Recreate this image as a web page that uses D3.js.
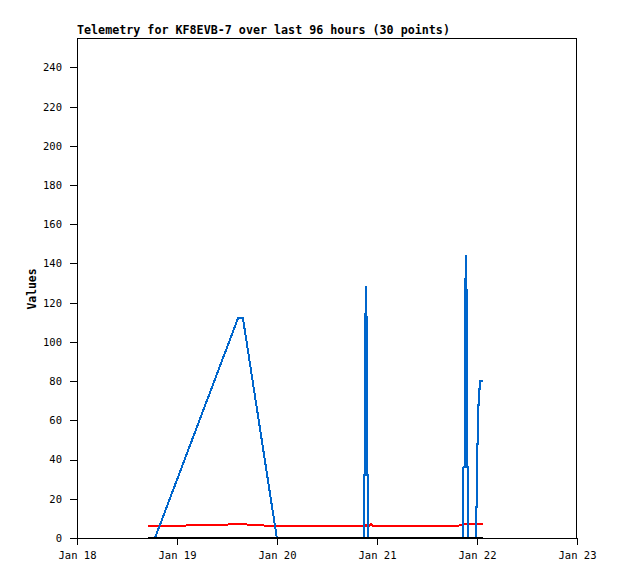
<!DOCTYPE html>
<html><head><meta charset="utf-8">
<script src="https://cdn.jsdelivr.net/npm/d3@7"></script>
<style>
body{margin:0;background:#fff;}
svg text{font-family:"DejaVu Sans Mono","Liberation Mono",monospace;}
</style></head>
<body><svg id="c" width="618" height="579"></svg>
<script>
const title = "Telemetry for KF8EVB-7 over last 96 hours (30 points)";
const yLabel = "Values";
const times = [
 "2021-01-18T17:02","2021-01-18T18:43","2021-01-19T14:38","2021-01-19T15:50","2021-01-19T23:58",
 "2021-01-20T20:48","2021-01-20T20:51","2021-01-20T21:06","2021-01-20T21:07","2021-01-20T21:20",
 "2021-01-20T21:23","2021-01-20T21:36","2021-01-20T21:37","2021-01-20T21:50","2021-01-20T21:53",
 "2021-01-20T22:34","2021-01-20T23:02",
 "2021-01-21T19:12",
 "2021-01-21T20:43","2021-01-21T20:46","2021-01-21T21:04","2021-01-21T21:05","2021-01-21T21:19",
 "2021-01-21T21:23","2021-01-21T21:36","2021-01-21T21:37","2021-01-21T21:50","2021-01-21T21:53",
 "2021-01-21T23:43","2021-01-21T23:46","2021-01-21T23:59","2021-01-22T00:00","2021-01-22T00:13",
 "2021-01-22T00:14","2021-01-22T00:27","2021-01-22T00:29","2021-01-22T00:37","2021-01-22T00:39",
 "2021-01-22T01:26"
];
const blueValues = [0,0,112,112,0,
 0,32,32,96,128,128,96,32,32,0, 0,0,
 0,
 0,36,36,108,144,144,108,36,36,0,
 0,16,16,48,48,68,68,76,76,80,80];
const redValues  = [6,6,7,7,6,
 6,6,6,6.5,6.5,6.5,6.5,6,6,6, 7,6,
 6,
 7,7,7,7,7,7,7,7,7,7,
 7,7,7,7,7,7,7,7,7,7,7];
const blackValues = blueValues.map(() => 0);
const xDomain = ["2021-01-18T00:00","2021-01-23T00:00"];
const yDomain = [0,255];
const yTicks = [0,20,40,60,80,100,120,140,160,180,200,220,240];
const xTicks = ["2021-01-18","2021-01-19","2021-01-20","2021-01-21","2021-01-22","2021-01-23"];

const parse = d3.utcParse("%Y-%m-%dT%H:%M");
const parseDay = d3.utcParse("%Y-%m-%d");
const L=77,R=577,T=38,B=538;
const svg = d3.select("#c");
const x = d3.scaleUtc().domain(xDomain.map(parse)).range([L,R]);
const y = d3.scaleLinear().domain(yDomain).range([B,T]);
const fmt = d3.utcFormat("%b %d");

svg.append("rect").attr("x",L+0.5).attr("y",T+0.5).attr("width",R-L-1).attr("height",B-T)
  .attr("fill","none").attr("stroke","#000").attr("stroke-width",1).attr("shape-rendering","crispEdges");

const yAxis = svg.append("g").attr("transform",`translate(${L},0)`)
  .call(d3.axisLeft(y).tickValues(yTicks).tickSize(7).tickPadding(8).tickSizeOuter(0));
yAxis.select(".domain").remove();
yAxis.selectAll("line").attr("shape-rendering","crispEdges");
yAxis.selectAll("text").attr("font-size","10.5px").attr("fill","#000")
  .style("font-family",'"DejaVu Sans Mono",monospace');

const xAxis = svg.append("g").attr("transform",`translate(0,${B})`)
  .call(d3.axisBottom(x).tickValues(xTicks.map(parseDay)).tickFormat(fmt).tickSize(7).tickPadding(7).tickSizeOuter(0));
xAxis.select(".domain").attr("shape-rendering","crispEdges");
xAxis.selectAll("line").attr("shape-rendering","crispEdges");
xAxis.selectAll("text").attr("font-size","10.5px").attr("fill","#000")
  .style("font-family",'"DejaVu Sans Mono",monospace');

const pts = times.map(parse);
function drawSeries(vals,color){
  const line = d3.line().x((d,i)=>x(pts[i])).y(d=>y(d));
  svg.append("path").datum(vals).attr("d",line).attr("fill","none")
    .attr("stroke",color).attr("stroke-width",2).attr("shape-rendering","crispEdges");
}
drawSeries(redValues,"#ff0000");
drawSeries(blueValues,"#0066cc");
drawSeries(blackValues,"#000000");

svg.append("text").attr("x",L).attr("y",34).attr("font-size","11.7px").attr("font-weight","bold")
  .text(title);
svg.append("text").attr("transform","translate(36,289) rotate(-90)").attr("text-anchor","middle")
  .attr("font-size","11.4px").attr("font-weight","bold").text(yLabel);
</script></body></html>
